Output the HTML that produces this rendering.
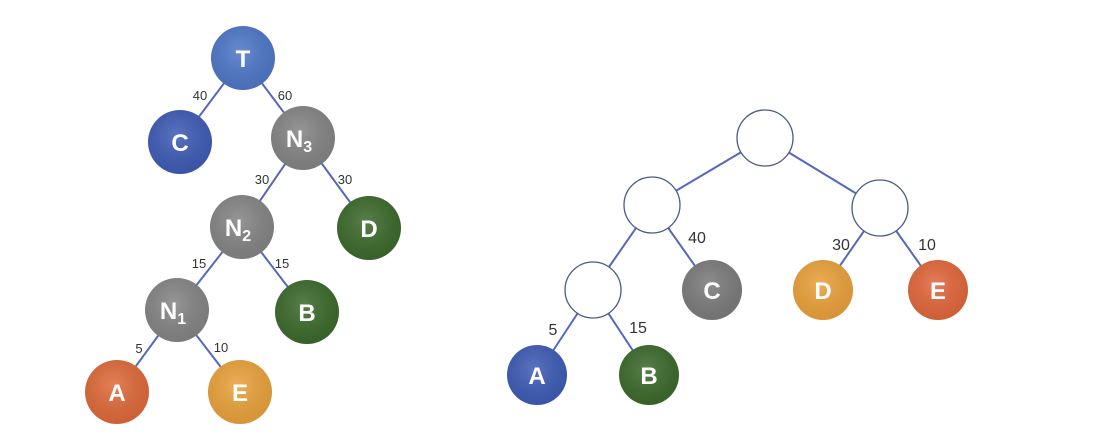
<!DOCTYPE html>
<html><head><meta charset="utf-8"><style>
html,body{margin:0;padding:0;background:#fff;width:1096px;height:440px;overflow:hidden}
svg{display:block}
text{font-family:"Liberation Sans",sans-serif}
</style></head><body>
<svg id="chart" width="1096" height="440" viewBox="0 0 1096 440">
<defs>
<radialGradient id="sh" cx="0.45" cy="0.4" r="0.6"><stop offset="0" stop-color="#fff" stop-opacity="0.15"/><stop offset="1" stop-color="#000" stop-opacity="0.08"/></radialGradient>
</defs>
</svg>
<script>
const nodeIds=["T","C","N3","N2","D","N1","B","A","E","r0","r1","r2","r3","rC","rD","rE","rA","rB"];
const nodeX=[243,180,303,242,369,177,307,117,240,765,652,880,593,712,823,938,537,649];
const nodeY=[58,142,138,227,228,310,312,392,392,138,205,208,290,290,290,290,375,375];
const nodeR=[32,32,32,32,32,32,32,32,32,28,28,28,28,30,30,30,30,30];
const nodeLabel=["T","C","N|3","N|2","D","N|1","B","A","E","","","","","C","D","E","A","B"];
const nodeColor=["#4f78c8","#3f5cb6","#858585","#858585","#3d6a2c","#858585","#3d6a2c","#df6a3a","#eaa23c","#fff","#fff","#fff","#fff","#7c7c7c","#eba13c","#e2673d","#3f5cb6","#3d6a2c"];
const edgeFrom=["T","T","N3","N3","N2","N2","N1","N1","r0","r0","r1","r1","r2","r2","r3","r3"];
const edgeTo=["C","N3","N2","D","N1","B","A","E","r1","r2","r3","rC","rD","rE","rA","rB"];
const weightText=["40","60","30","30","15","15","5","10","40","30","10","5","15"];
const weightX=[200,285,262,345,199,282,139,221,697,841,927,553,638];
const weightY=[95,95,179,179,263,263,348,347,238,245,245,330,328];
const svg=document.getElementById('chart');
const NS="http://www.w3.org/2000/svg";
function idx(id){return nodeIds.indexOf(id);}
for(let i=0;i<edgeFrom.length;i++){
  const a=idx(edgeFrom[i]),b=idx(edgeTo[i]);
  const l=document.createElementNS(NS,'line');
  
  
  l.setAttribute('x1',nodeX[a]);l.setAttribute('y1',nodeY[a]);
  l.setAttribute('x2',nodeX[b]);l.setAttribute('y2',nodeY[b]);
  l.setAttribute('stroke','#5468bc');l.setAttribute('stroke-width','2');
  svg.appendChild(l);
}
for(let i=0;i<nodeIds.length;i++){
  const g=document.createElementNS(NS,'g');
  
  
  const c=document.createElementNS(NS,'circle');
  c.setAttribute('cx',nodeX[i]);c.setAttribute('cy',nodeY[i]);c.setAttribute('r',nodeR[i]);
  c.setAttribute('fill',nodeColor[i]);
  if(nodeColor[i]==="#fff"){c.setAttribute('stroke','#4a5a8a');c.setAttribute('stroke-width','1.3');}
  g.appendChild(c);
  if(nodeColor[i]!=="#fff"){
    const s=document.createElementNS(NS,'circle');
    s.setAttribute('cx',nodeX[i]);s.setAttribute('cy',nodeY[i]);s.setAttribute('r',nodeR[i]);
    s.setAttribute('fill','url(#sh)');g.appendChild(s);
  }
  if(nodeLabel[i]){
    const parts=nodeLabel[i].split('|');
    const t=document.createElementNS(NS,'text');
    t.setAttribute('x',nodeX[i]-(parts[1]?4:0));t.setAttribute('y',nodeY[i]+9);
    t.setAttribute('text-anchor','middle');t.setAttribute('fill','#fff');
    t.setAttribute('font-size','24');t.setAttribute('font-weight','bold');
    t.textContent=parts[0];
    if(parts[1]){
      const ts=document.createElementNS(NS,'tspan');
      ts.setAttribute('font-size','16');ts.setAttribute('dy','5');
      ts.textContent=parts[1];t.appendChild(ts);
    }
    g.appendChild(t);
  }
  svg.appendChild(g);
}
for(let i=0;i<weightText.length;i++){
  const t=document.createElementNS(NS,'text');
  
  
  t.setAttribute('x',weightX[i]);t.setAttribute('y',weightY[i]+5);
  t.setAttribute('text-anchor','middle');
  t.setAttribute('font-size',i<8?'13':'16');
  t.setAttribute('fill','#333');
  t.textContent=weightText[i];
  svg.appendChild(t);
}
</script>
</body></html>
